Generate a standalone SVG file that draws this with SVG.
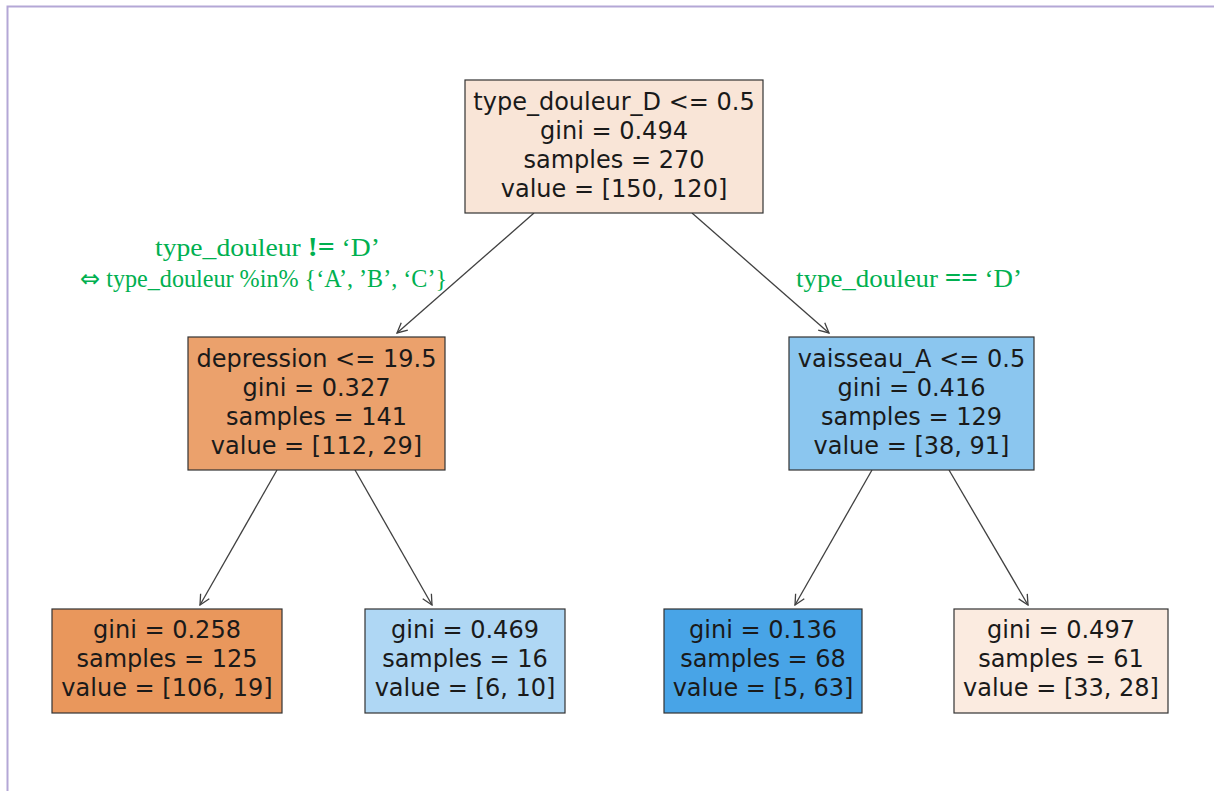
<svg xmlns="http://www.w3.org/2000/svg" width="1214" height="791" viewBox="0 0 1214 791">
  <style>
    .node rect { stroke: #333333; stroke-width: 1.2; }
    .node text { font-family: "DejaVu Sans", sans-serif; font-size: 24px; fill: #1a1a1a; text-anchor: middle; }
    .edges line { stroke: #404040; stroke-width: 1.3; fill: none; }
    .lbl { font-family: "Liberation Serif", serif; font-size: 25px; fill: #00b050; text-anchor: middle; }
    .op { font-weight: bold; font-size: 27px; }
    .sym { font-family: "DejaVu Sans", sans-serif; font-size: 25px; }
  </style>
  <defs>
    <marker id="arrow" viewBox="0 0 12 12" refX="11" refY="6" markerWidth="12" markerHeight="12" markerUnits="userSpaceOnUse" orient="auto">
      <path d="M1,1 L11,6 L1,11" fill="none" stroke="#404040" stroke-width="1.3"/>
    </marker>
  </defs>
  <rect width="1214" height="791" fill="#ffffff"/>
  <!-- page frame -->
  <path d="M7.5,791 V6.5 H1214" fill="none" stroke="#b4a7d6" stroke-width="2"/>

  <g class="edges">
    <line x1="534" y1="213" x2="397" y2="333" marker-end="url(#arrow)"/>
    <line x1="692" y1="213" x2="829" y2="333" marker-end="url(#arrow)"/>
    <line x1="277" y1="470" x2="200" y2="605" marker-end="url(#arrow)"/>
    <line x1="355" y1="470" x2="432" y2="605" marker-end="url(#arrow)"/>
    <line x1="872" y1="470" x2="795" y2="605" marker-end="url(#arrow)"/>
    <line x1="949" y1="470" x2="1028" y2="605" marker-end="url(#arrow)"/>
  </g>

  <g id="root" class="node">
    <rect x="465" y="80" width="298" height="133" fill="#f9e5d7"/>
    <text x="614" y="110">type_douleur_D &lt;= 0.5</text>
    <text x="614" y="139">gini = 0.494</text>
    <text x="614" y="168">samples = 270</text>
    <text x="614" y="197">value = [150, 120]</text>
  </g>

  <g id="depression" class="node">
    <rect x="188" y="337" width="257" height="133" fill="#eba16c"/>
    <text x="316.5" y="367">depression &lt;= 19.5</text>
    <text x="316.5" y="396">gini = 0.327</text>
    <text x="316.5" y="425">samples = 141</text>
    <text x="316.5" y="454">value = [112, 29]</text>
  </g>

  <g id="vaisseau" class="node">
    <rect x="789" y="337" width="245" height="133" fill="#8bc6ef"/>
    <text x="911.5" y="367">vaisseau_A &lt;= 0.5</text>
    <text x="911.5" y="396">gini = 0.416</text>
    <text x="911.5" y="425">samples = 129</text>
    <text x="911.5" y="454">value = [38, 91]</text>
  </g>

  <g id="leaf1" class="node">
    <rect x="52" y="609" width="230" height="104" fill="#e9975c"/>
    <text x="167" y="638">gini = 0.258</text>
    <text x="167" y="667">samples = 125</text>
    <text x="167" y="696">value = [106, 19]</text>
  </g>

  <g id="leaf2" class="node">
    <rect x="365" y="609" width="200" height="104" fill="#afd7f4"/>
    <text x="465" y="638">gini = 0.469</text>
    <text x="465" y="667">samples = 16</text>
    <text x="465" y="696">value = [6, 10]</text>
  </g>

  <g id="leaf3" class="node">
    <rect x="664" y="609" width="198" height="104" fill="#48a4e7"/>
    <text x="763" y="638">gini = 0.136</text>
    <text x="763" y="667">samples = 68</text>
    <text x="763" y="696">value = [5, 63]</text>
  </g>

  <g id="leaf4" class="node">
    <rect x="954" y="609" width="214" height="104" fill="#fbebe0"/>
    <text x="1061" y="638">gini = 0.497</text>
    <text x="1061" y="667">samples = 61</text>
    <text x="1061" y="696">value = [33, 28]</text>
  </g>

  <g id="labels">
    <text class="lbl" x="267.5" y="256" textLength="225" lengthAdjust="spacingAndGlyphs">type_douleur <tspan class="op">!=</tspan> ‘D’</text>
    <text class="lbl" x="263.5" y="287" textLength="367" lengthAdjust="spacingAndGlyphs"><tspan class="sym">⇔</tspan> type_douleur %in% {‘A’, ’B’, ‘C’}</text>
    <text class="lbl" x="909" y="287" textLength="226" lengthAdjust="spacingAndGlyphs">type_douleur <tspan class="op">==</tspan> ‘D’</text>
  </g>
</svg>
